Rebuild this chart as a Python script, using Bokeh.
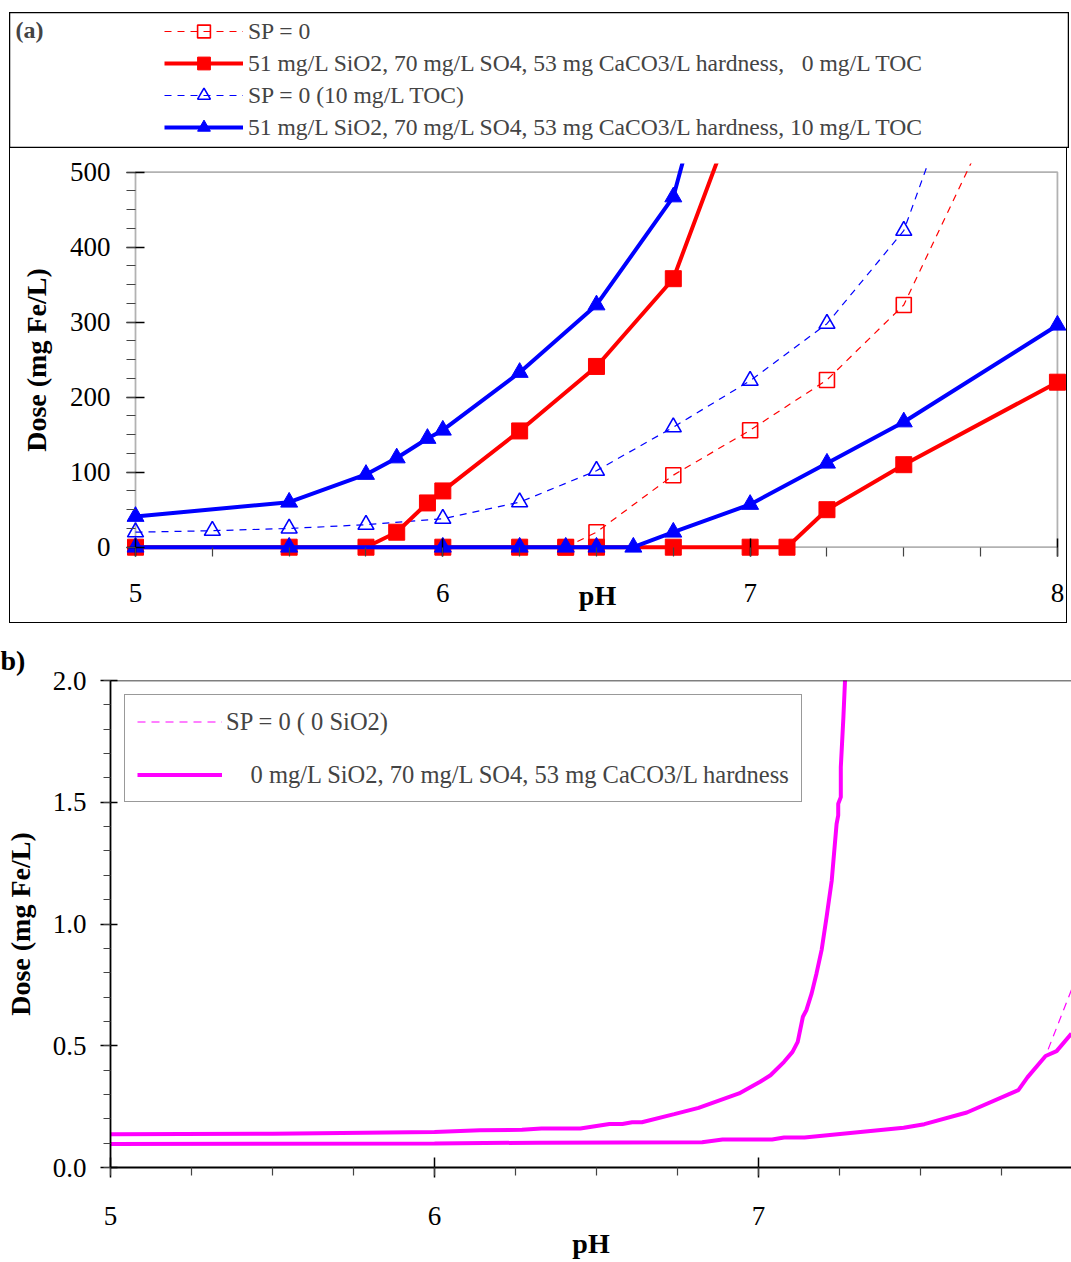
import math
from bokeh.plotting import figure
from bokeh.models import (Range1d, Legend, LegendItem, Label, BoxAnnotation, Span,
                          SingleIntervalTicker, PrintfTickFormatter)
from bokeh.layouts import column, row, Spacer
from bokeh.embed import file_html
from bokeh.resources import INLINE

FONT = "Liberation Serif"

# ---------------- panel (a) data ----------------
ph_a_sp0 = [6.4, 6.5, 6.75, 7.0, 7.25, 7.5, 7.75]
dose_a_sp0 = [0, 20, 96, 156, 223, 323, 539]

ph_a_toc0_hi = [5.75, 5.85, 5.95, 6.0, 6.25, 6.5, 6.75, 7.0]
dose_a_toc0_hi = [0, 20, 59, 75, 155, 241, 358, 632]
ph_a_toc0_lo = [5.0, 5.5, 6.0, 6.25, 6.4, 6.5, 6.75, 7.0, 7.12, 7.25, 7.5, 8.0]
dose_a_toc0_lo = [0, 0, 0, 0, 0, 0, 0, 0, 0, 50, 110, 220]

ph_a_sp0_toc = [5.0, 5.25, 5.5, 5.75, 6.0, 6.25, 6.5, 6.75, 7.0, 7.25, 7.5, 7.75]
dose_a_sp0_toc = [20, 22, 25, 30, 38, 60, 102, 160, 222, 298, 422, 706]

ph_a_toc10_hi = [5.0, 5.5, 5.75, 5.85, 5.95, 6.0, 6.25, 6.5, 6.75, 7.0]
dose_a_toc10_hi = [41, 60, 97, 119, 145, 156, 233, 323, 467, 845]
ph_a_toc10_lo = [5.0, 5.5, 6.0, 6.25, 6.4, 6.5, 6.62, 6.75, 7.0, 7.25, 7.5, 8.0]
dose_a_toc10_lo = [0, 0, 0, 0, 0, 0, 0, 20, 57, 112, 167, 296]

labels_a = [
    "SP = 0",
    "51 mg/L SiO2, 70 mg/L SO4, 53 mg CaCO3/L hardness,\u00a0\u00a0 0 mg/L TOC",
    "SP = 0 (10 mg/L TOC)",
    "51 mg/L SiO2, 70 mg/L SO4, 53 mg CaCO3/L hardness, 10 mg/L TOC",
]

# ---------------- panel (b) data ----------------
ph_b_sp0 = [5.0, 6.0, 6.32, 6.826, 6.889, 7.042, 7.079, 7.142, 7.448, 7.512, 7.643,
            7.802, 7.83, 7.886, 7.966, 7.99]
dose_b_sp0 = [0.097, 0.099, 0.102, 0.104, 0.115, 0.115, 0.123, 0.123, 0.163, 0.178, 0.226,
              0.318, 0.37, 0.458, 0.73, 0.80]

ph_b_lower = [5.0, 6.0, 6.32, 6.826, 6.889, 7.042, 7.079, 7.142, 7.448, 7.512, 7.643,
              7.802, 7.83, 7.886, 7.92, 7.966]
dose_b_lower = [0.097, 0.099, 0.102, 0.104, 0.115, 0.115, 0.123, 0.123, 0.163, 0.178, 0.226,
                0.318, 0.37, 0.458, 0.478, 0.55]

ph_b_upper = [5.0, 5.5, 6.0, 6.14, 6.27, 6.33, 6.45, 6.54, 6.58, 6.61, 6.64, 6.74, 6.815,
              6.94, 7.005, 7.037, 7.079, 7.105, 7.121, 7.137, 7.148, 7.164, 7.179, 7.195,
              7.21, 7.226, 7.241, 7.246, 7.246, 7.254, 7.254, 7.262, 7.267, 7.27]
dose_b_upper = [0.137, 0.139, 0.146, 0.153, 0.155, 0.160, 0.160, 0.179, 0.179, 0.186, 0.186,
                0.219, 0.245, 0.304, 0.352, 0.379, 0.434, 0.475, 0.516, 0.619, 0.647, 0.715,
                0.797, 0.895, 1.028, 1.179, 1.411, 1.446, 1.494, 1.521, 1.644, 1.849, 2.0, 2.1]

labels_b = [
    "SP = 0 ( 0 SiO2)",
    "\u00a0\u00a0\u00a0\u00a00 mg/L SiO2, 70 mg/L SO4, 53 mg CaCO3/L hardness",
]

RED = "#FF0000"
BLUE = "#0000FF"
MAG = "#FF00FF"


def add_series(fig, xs, ys, color, dashed, marker, size, filled):
    if dashed:
        lr = fig.line(xs, ys, line_color=color, line_width=1.2, line_dash="7 6")
    else:
        lr = fig.line(xs, ys, line_color=color, line_width=4)
    sr = fig.scatter(xs, ys, marker=marker, size=size, line_color=color,
                     fill_color=color if filled else None,
                     line_width=1.6 if not filled else 1)
    return lr, sr


def draw_panel_a(fig):
    out = []
    out.append(add_series(fig, ph_a_sp0, dose_a_sp0, RED, True, "square", 15, False))
    out.append(add_series(fig, ph_a_sp0_toc, dose_a_sp0_toc, BLUE, True, "triangle", 16, False))
    out.append(add_series(fig, ph_a_toc0_lo, dose_a_toc0_lo, RED, False, "square", 16, True))
    out.append(add_series(fig, ph_a_toc0_hi, dose_a_toc0_hi, RED, False, "square", 16, True))
    out.append(add_series(fig, ph_a_toc10_lo, dose_a_toc10_lo, BLUE, False, "triangle", 17, True))
    out.append(add_series(fig, ph_a_toc10_hi, dose_a_toc10_hi, BLUE, False, "triangle", 17, True))
    return out


# ---------------- legend strip of panel (a) ----------------
leg = figure(width=1060, height=136, x_range=Range1d(100, 101), y_range=Range1d(5000, 5001),
             min_border=0, x_axis_location=None, y_axis_location=None,
             toolbar_location=None, output_backend="svg", frame_align=False,
             outline_line_color="black", outline_line_width=1.5)
leg.grid.visible = False
r_leg = draw_panel_a(leg)
legend_a = Legend(items=[
    LegendItem(label=labels_a[0], renderers=list(r_leg[0])),
    LegendItem(label=labels_a[1], renderers=list(r_leg[3])),
    LegendItem(label=labels_a[2], renderers=list(r_leg[1])),
    LegendItem(label=labels_a[3], renderers=list(r_leg[5])),
], location=(155, 5), label_text_font=FONT, label_text_font_size="23.6px",
    glyph_width=79, glyph_height=32, label_height=32, label_standoff=5,
    spacing=0, padding=0, margin=0, border_line_color=None, background_fill_alpha=0)
leg.add_layout(legend_a)
leg.add_layout(Label(x=6, y=119, x_units="screen", y_units="screen", text="(a)",
                     text_font=FONT, text_font_style="bold", text_font_size="24px",
                     text_baseline="middle"))

# ---------------- panel (a) plot ----------------
pa = figure(width=1058, height=475, x_range=Range1d(4.9707, 8.036), y_range=Range1d(-12.4, 511.6),
            min_border_left=116, min_border_right=0, min_border_top=15, min_border_bottom=67,
            toolbar_location=None, output_backend="svg", outline_line_color=None,
            frame_align=False, x_axis_label="pH", y_axis_label="Dose (mg Fe/L)",
            styles={"border-left": "1px solid black", "border-right": "1px solid black",
                    "border-bottom": "1px solid black"})
pa.grid.visible = False
pa.add_layout(BoxAnnotation(left=5, right=8, bottom=0, top=500, fill_alpha=0,
                            line_color="black", line_width=1.8, level="underlay"))
draw_panel_a(pa)

pa.xaxis.bounds = (5, 8)
pa.yaxis.bounds = (0, 500)
pa.xaxis.ticker = SingleIntervalTicker(interval=1, num_minor_ticks=4)
pa.yaxis.ticker = SingleIntervalTicker(interval=100, num_minor_ticks=4)
for ax in (pa.xaxis, pa.yaxis):
    ax.axis_line_color = None
    ax.major_tick_line_color = "black"
    ax.major_tick_line_width = 1.5
    ax.minor_tick_line_color = "#444444"
    ax.minor_tick_line_width = 1.2
    ax.major_tick_in = 18
    ax.major_tick_out = 0
    ax.minor_tick_in = 9
    ax.minor_tick_out = 0
    ax.major_label_text_font = FONT
    ax.major_label_text_font_size = "27px"
    ax.major_label_text_color = "black"
    ax.axis_label_text_font = FONT
    ax.axis_label_text_font_style = "bold"
    ax.axis_label_text_font_size = "28px"
    ax.axis_label_text_color = "black"
pa.xaxis.major_label_standoff = 27
pa.yaxis.major_label_standoff = 16
pa.xaxis.axis_label_standoff = -25
pa.yaxis.axis_label_standoff = 15

# ---------------- panel (b) ----------------
pb = figure(width=1071, height=638, x_range=Range1d(5, 7.966), y_range=Range1d(0, 2.0),
            min_border_left=110, min_border_right=0, min_border_top=56, min_border_bottom=95,
            toolbar_location=None, output_backend="svg", outline_line_color=None,
            frame_align=False, x_axis_label="pH", y_axis_label="Dose (mg Fe/L)",
            title="b)")
pb.grid.visible = False
pb.title.align = "left"
pb.title.offset = -110
pb.title.text_font = FONT
pb.title.text_font_style = "bold"
pb.title.text_font_size = "28px"
pb.title.text_color = "black"

rb_sp0 = pb.line(ph_b_sp0, dose_b_sp0, line_color=MAG, line_width=1.2, line_dash="8 6")
rb_low = pb.line(ph_b_lower, dose_b_lower, line_color=MAG, line_width=4)
rb_up = pb.line(ph_b_upper, dose_b_upper, line_color=MAG, line_width=4)
pb.add_layout(Span(location=2.0, dimension="width", line_color="black", line_width=1.5))

pb.xaxis.ticker = SingleIntervalTicker(interval=1, num_minor_ticks=4)
pb.yaxis.ticker = SingleIntervalTicker(interval=0.5, num_minor_ticks=5)
pb.yaxis.formatter = PrintfTickFormatter(format="%.1f")
for ax in (pb.xaxis, pb.yaxis):
    ax.axis_line_color = "black"
    ax.axis_line_width = 1.8
    ax.major_tick_line_color = "black"
    ax.major_tick_line_width = 1.5
    ax.minor_tick_line_color = "#444444"
    ax.minor_tick_line_width = 1.2
    ax.minor_tick_in = 0
    ax.major_label_text_font = FONT
    ax.major_label_text_font_size = "27px"
    ax.major_label_text_color = "black"
    ax.axis_label_text_font = FONT
    ax.axis_label_text_font_style = "bold"
    ax.axis_label_text_font_size = "28px"
    ax.axis_label_text_color = "black"
pb.xaxis.major_tick_in = 10
pb.xaxis.major_tick_out = 10
pb.xaxis.minor_tick_out = 8
pb.yaxis.major_tick_in = 7
pb.yaxis.major_tick_out = 10
pb.yaxis.minor_tick_out = 7
pb.xaxis.major_label_standoff = 29
pb.yaxis.major_label_standoff = 14
pb.xaxis.axis_label_standoff = 0
pb.yaxis.axis_label_standoff = 14

legend_b = Legend(items=[
    LegendItem(label=labels_b[0], renderers=[rb_sp0]),
    LegendItem(label=labels_b[1], renderers=[rb_up]),
], location="top_left", margin=14, padding=12, spacing=24,
    glyph_width=85, glyph_height=29, label_height=29, label_standoff=4,
    label_text_font=FONT, label_text_font_size="24.5px",
    border_line_color="#333333", border_line_width=1.5, background_fill_color="white")
pb.add_layout(legend_b)

page = column(Spacer(height=12, width=1071),
              row(Spacer(width=9, height=612), column(leg, pa)),
              pb)

open("out.html", "w").write(file_html(page, INLINE))
